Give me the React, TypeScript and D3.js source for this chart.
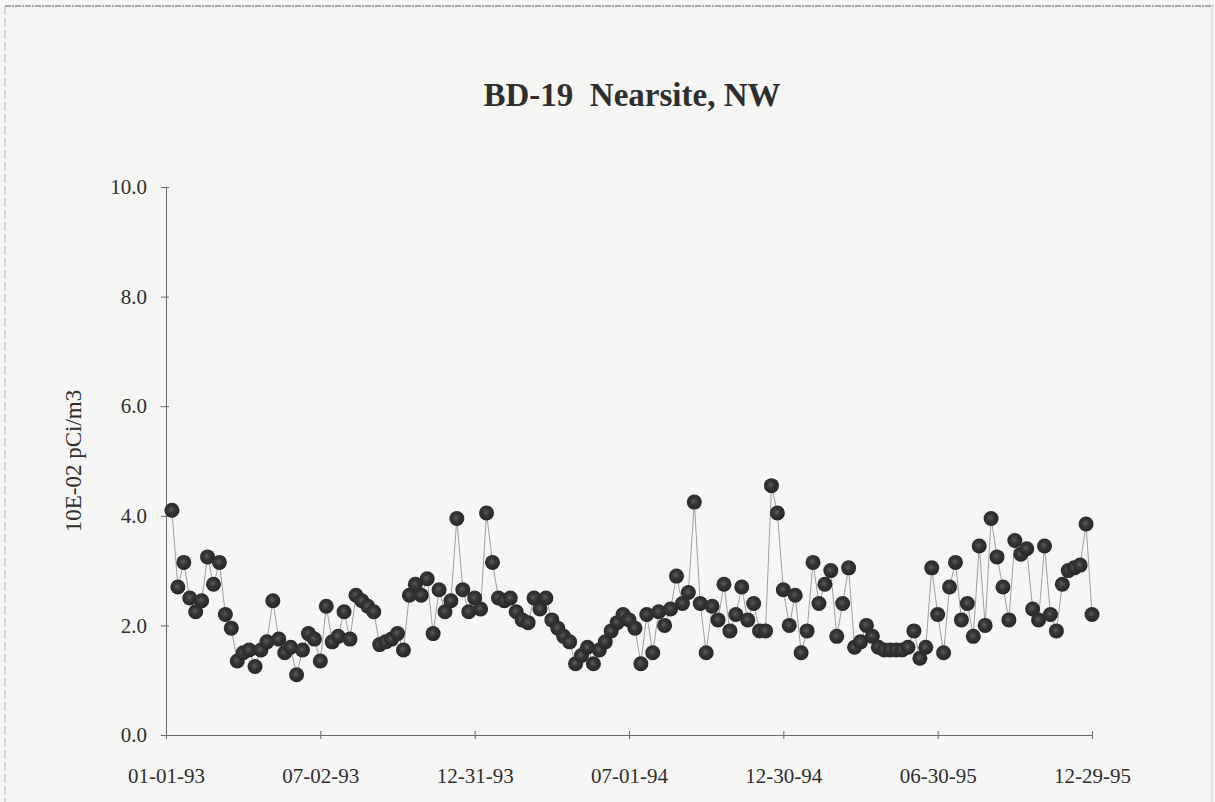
import React, { useRef, useEffect } from 'react';
import * as d3 from 'd3';

// weekly samples, Fridays (units: 10E-02 pCi/m3)
const values1993 = [
  4.1, 2.7, 3.15, 2.5, 2.25, 2.45, 3.25, 2.75, 3.15, 2.2, 1.95, 1.35, 1.5,
  1.55, 1.25, 1.55, 1.7, 2.45, 1.75, 1.5, 1.6, 1.1, 1.55, 1.85, 1.75, 1.35,
  2.35, 1.7, 1.8, 2.25, 1.75, 2.55, 2.45, 2.35, 2.25, 1.65, 1.7, 1.75, 1.85,
  1.55, 2.55, 2.75, 2.55, 2.85, 1.85, 2.65, 2.25, 2.45, 3.95, 2.65, 2.25, 2.5,
];
const values1994 = [
  2.3, 4.05, 3.15, 2.5, 2.45, 2.5, 2.25, 2.1, 2.05, 2.5, 2.3, 2.5, 2.1,
  1.95, 1.8, 1.7, 1.3, 1.45, 1.6, 1.3, 1.55, 1.7, 1.9, 2.05, 2.2, 2.1,
  1.95, 1.3, 2.2, 1.5, 2.25, 2.0, 2.3, 2.9, 2.4, 2.6, 4.25, 2.4, 1.5,
  2.35, 2.1, 2.75, 1.9, 2.2, 2.7, 2.1, 2.4, 1.9, 1.9, 4.55, 4.05, 2.65,
];
const values1995 = [
  2.0, 2.55, 1.5, 1.9, 3.15, 2.4, 2.75, 3.0, 1.8, 2.4, 3.05, 1.6, 1.7,
  2.0, 1.8, 1.6, 1.55, 1.55, 1.55, 1.55, 1.6, 1.9, 1.4, 1.6, 3.05, 2.2,
  1.5, 2.7, 3.15, 2.1, 2.4, 1.8, 3.45, 2.0, 3.95, 3.25, 2.7, 2.1, 3.55,
  3.3, 3.4, 2.3, 2.1, 3.45, 2.2, 1.9, 2.75, 3.0, 3.05, 3.1, 3.85, 2.2,
];

const firstSample = new Date(1993, 0, 8);
const lastSample = new Date(1995, 11, 29);
const xTickLabels = ['01-01-93', '07-02-93', '12-31-93', '07-01-94', '12-30-94', '06-30-95', '12-29-95'];
const yTicks = [0, 2, 4, 6, 8, 10];
const title = 'BD-19  Nearsite, NW';
const yTitle = '10E-02 pCi/m3';

const W = 1215;
const H = 802;
const margin = { left: 166, right: 123, top: 187, bottom: 67 };
const font = '"Liberation Serif", "DejaVu Serif", serif';
const ink = '#2e2e2e';

const parseLabel = d3.timeParse('%m-%d-%y');

const App = () => {
  const ref = useRef<SVGSVGElement | null>(null);

  useEffect(() => {
    if (!ref.current) return;
    const svg = d3.select(ref.current);
    svg.selectAll('*').remove();

    const dates = d3.timeFriday.range(firstSample, d3.timeDay.offset(lastSample, 1));
    const values = [...values1993, ...values1994, ...values1995];
    const data = dates.map((d, i) => ({ date: d, value: values[i] }));
    const tickDates = xTickLabels.map(s => parseLabel(s) as Date);

    const x = d3.scaleTime()
      .domain([tickDates[0], tickDates[tickDates.length - 1]])
      .range([margin.left, W - margin.right]);
    const y = d3.scaleLinear()
      .domain([0, 10])
      .range([H - margin.bottom, margin.top]);

    const defs = svg.append('defs');
    const grad = defs.append('radialGradient').attr('id', 'dot')
      .attr('cx', '45%').attr('cy', '45%').attr('r', '60%');
    grad.append('stop').attr('offset', '0%').attr('stop-color', '#5c5c5c');
    grad.append('stop').attr('offset', '40%').attr('stop-color', '#363636');
    grad.append('stop').attr('offset', '100%').attr('stop-color', '#242424');

    // paper
    svg.append('rect').attr('width', W).attr('height', H).attr('fill', '#f5f5f3');
    svg.append('line').attr('x1', 5).attr('x2', W - 2).attr('y1', 6).attr('y2', 6)
      .attr('stroke', '#8a8a8a').attr('stroke-width', 1.5).attr('stroke-dasharray', '6 1 2 1');
    svg.append('line').attr('x1', 5).attr('x2', 5).attr('y1', 6).attr('y2', H)
      .attr('stroke', '#b4b4b4').attr('stroke-width', 1).attr('stroke-dasharray', '9 3');
    svg.append('line').attr('x1', W - 3).attr('x2', W - 3).attr('y1', 6).attr('y2', H)
      .attr('stroke', '#cfcfcf').attr('stroke-width', 1);

    // title
    svg.append('text')
      .attr('x', (margin.left + W - margin.right) / 2 + 3)
      .attr('y', 106)
      .attr('text-anchor', 'middle')
      .attr('font-family', font)
      .attr('font-size', 33)
      .attr('font-weight', 'bold')
      .attr('fill', ink)
      .style('white-space', 'pre')
      .text(title);

    // y axis
    const yAxis = d3.axisLeft(y).tickValues(yTicks).tickFormat(d3.format('.1f')).tickSizeOuter(0);
    svg.append('g')
      .attr('transform', `translate(${margin.left},0)`)
      .call(yAxis)
      .call(g => g.select('.domain').attr('stroke', '#6a6a6a'))
      .call(g => g.selectAll('.tick line').attr('x1', -5).attr('x2', 3).attr('stroke', '#6a6a6a'))
      .call(g => g.selectAll('.tick text')
        .attr('x', -19)
        .attr('font-family', font)
        .attr('font-size', 21)
        .attr('fill', ink));

    svg.append('text')
      .attr('transform', `translate(81,${(y(0) + y(10)) / 2}) rotate(-90)`)
      .attr('text-anchor', 'middle')
      .attr('font-family', font)
      .attr('font-size', 23)
      .attr('fill', ink)
      .text(yTitle);

    // x axis
    const xAxis = d3.axisBottom(x).tickValues(tickDates)
      .tickFormat((d, i) => xTickLabels[i]).tickSizeOuter(0);
    svg.append('g')
      .attr('transform', `translate(0,${y(0)})`)
      .call(xAxis)
      .call(g => g.select('.domain').attr('stroke', '#6a6a6a'))
      .call(g => g.selectAll('.tick line').attr('y1', -4).attr('y2', 4).attr('stroke', '#6a6a6a'))
      .call(g => g.selectAll('.tick text')
        .attr('y', 33)
        .attr('font-family', font)
        .attr('font-size', 21)
        .attr('fill', ink));

    // series
    const line = d3.line<{ date: Date; value: number }>()
      .x(d => x(d.date))
      .y(d => y(d.value));
    svg.append('path')
      .datum(data)
      .attr('d', line)
      .attr('fill', 'none')
      .attr('stroke', '#a0a0a0')
      .attr('stroke-width', 1);

    svg.append('g')
      .selectAll('circle')
      .data(data)
      .join('circle')
      .attr('cx', d => x(d.date))
      .attr('cy', d => y(d.value))
      .attr('r', 7.5)
      .attr('fill', 'url(#dot)');
  }, []);

  return (
    <div>
      <style>{'body{margin:0}'}</style>
      <svg ref={ref} width={W} height={H} style={{ display: 'block' }} />
    </div>
  );
};

export default App;
